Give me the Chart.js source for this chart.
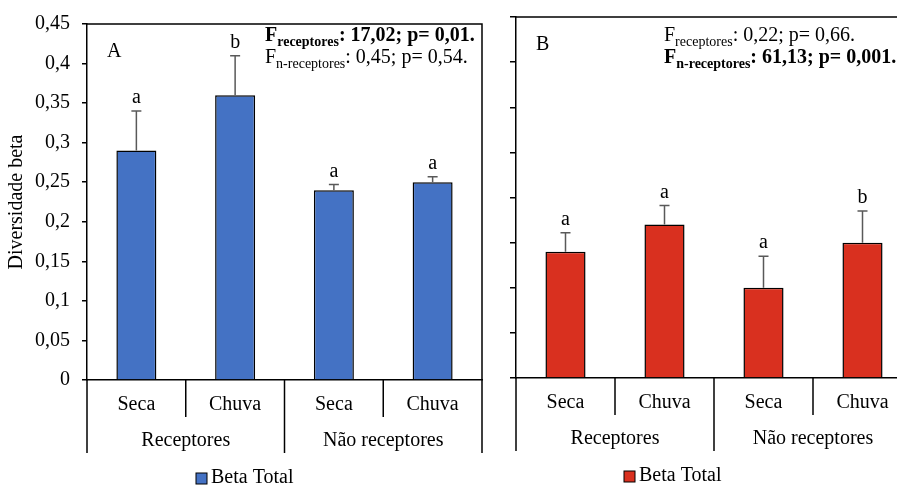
<!DOCTYPE html>
<html lang="pt">
<head>
<meta charset="UTF-8">
<title>Diversidade beta</title>
<style>
  html, body { margin: 0; padding: 0; background: #fff; overflow: hidden; width: 897px; height: 486px; }
  #chartA { position: absolute; left: 0; top: 0; }
  #chartB { position: absolute; left: 490px; top: 0; }
</style>
</head>
<body>
<canvas id="chartA" width="490" height="486"></canvas>
<canvas id="chartB" width="440" height="486"></canvas>

<script src="https://cdn.jsdelivr.net/npm/chart.js"></script>
<script>
// dados
const categorias = ['Seca', 'Chuva', 'Seca', 'Chuva'];
const grupos = ['Receptores', 'Não receptores'];
const serieNome = 'Beta Total';

const betaA = [0.29, 0.36, 0.24, 0.25];
const erroA = [0.05, 0.05, 0.007, 0.007];
const letrasA = ['a', 'b', 'a', 'a'];

const betaB = [0.14, 0.17, 0.10, 0.15];
const erroB = [0.021, 0.021, 0.035, 0.035];
const letrasB = ['a', 'a', 'a', 'b'];

const yTicksA = ['0', '0,05', '0,1', '0,15', '0,2', '0,25', '0,3', '0,35', '0,4', '0,45'];

const FONTE = '"Liberation Serif", "Times New Roman", serif';
const TAM = 20;

function richText(ctx, x, y, parts) {
  parts.forEach(p => {
    ctx.font = (p.bold ? 'bold ' : '') + p.size + 'px ' + FONTE;
    ctx.fillText(p.t, x, y + (p.dy || 0));
    x += ctx.measureText(p.t).width;
  });
}

const panelPlugin = {
  id: 'panel',
  afterDraw(chart, args, o) {
    const ctx = chart.ctx;
    const a = chart.chartArea;
    const xs = chart.scales.x, ys = chart.scales.y;
    const n = categorias.length;
    ctx.save();
    ctx.strokeStyle = '#000';
    ctx.lineWidth = 1.5;

    // moldura superior e direita
    ctx.beginPath();
    ctx.moveTo(a.left, a.top);
    ctx.lineTo(a.right, a.top);
    ctx.lineTo(a.right, a.bottom + 73);
    ctx.stroke();

    // linhas das categorias abaixo do eixo
    for (let i = 0; i < n; i++) {
      const xb = i === 0 ? a.left : (xs.getPixelForValue(i - 1) + xs.getPixelForValue(i)) / 2;
      const len = i % 2 === 0 ? 73 : 37;
      ctx.beginPath();
      ctx.moveTo(xb, a.bottom);
      ctx.lineTo(xb, a.bottom + len);
      ctx.stroke();
    }

    // barras de erro
    ctx.strokeStyle = '#595959';
    ctx.lineWidth = 1.5;
    o.valores.forEach((v, i) => {
      const x = xs.getPixelForValue(i);
      const y0 = ys.getPixelForValue(v);
      const y1 = ys.getPixelForValue(v + o.erros[i]);
      ctx.beginPath();
      ctx.moveTo(x, y0);
      ctx.lineTo(x, y1);
      ctx.moveTo(x - 5, y1);
      ctx.lineTo(x + 5, y1);
      ctx.stroke();
    });

    ctx.fillStyle = '#000';
    ctx.textAlign = 'center';
    ctx.textBaseline = 'alphabetic';
    ctx.font = TAM + 'px ' + FONTE;

    // letras de significância
    o.valores.forEach((v, i) => {
      const x = xs.getPixelForValue(i);
      const y1 = ys.getPixelForValue(v + o.erros[i]);
      ctx.fillText(o.letras[i], x, y1 - 8);
    });

    // rótulos do eixo x
    categorias.forEach((c, i) => ctx.fillText(c, xs.getPixelForValue(i), a.bottom + 30));
    grupos.forEach((g, j) => {
      const xm = (xs.getPixelForValue(2 * j) + xs.getPixelForValue(2 * j + 1)) / 2;
      ctx.fillText(g, xm, a.bottom + 66);
    });

    // letra do painel
    ctx.textAlign = 'left';
    ctx.fillText(o.letra, a.left + 20, a.top + 33);

    // estatísticas F
    o.linhasF.forEach((l, k) => {
      richText(ctx, o.fx, o.fy + k * 22, [
        { t: 'F', size: TAM, bold: l.bold },
        { t: l.sub, size: 14, bold: l.bold, dy: 5 },
        { t: l.resto, size: TAM, bold: l.bold }
      ]);
    });

    // legenda
    const ds = chart.data.datasets[0];
    ctx.fillStyle = ds.backgroundColor;
    ctx.fillRect(o.legX, o.legY - 10, 11, 11);
    ctx.strokeStyle = '#000';
    ctx.lineWidth = 1;
    ctx.strokeRect(o.legX, o.legY - 10, 11, 11);
    ctx.fillStyle = '#000';
    ctx.font = TAM + 'px ' + FONTE;
    ctx.fillText(ds.label, o.legX + 15, o.legY);
    ctx.restore();
  }
};

function makeChart(id, valores, erros, letras, cor, yOpts, extra) {
  return new Chart(document.getElementById(id), {
    type: 'bar',
    data: {
      labels: categorias,
      datasets: [{
        label: serieNome,
        data: valores,
        backgroundColor: cor,
        borderColor: '#000',
        borderWidth: 1.5,
        categoryPercentage: 1,
        barPercentage: 0.405
      }]
    },
    options: {
      responsive: false,
      devicePixelRatio: 1,
      animation: false,
      layout: { padding: extra.padding },
      plugins: {
        legend: { display: false },
        tooltip: { enabled: false },
        panel: Object.assign({ valores, erros, letras }, extra.panel)
      },
      scales: {
        x: {
          grid: { display: false },
          ticks: { display: false },
          border: { display: true, color: '#000', width: 1.5 },
          afterFit: s => { s.height = extra.xHeight; }
        },
        y: yOpts
      }
    },
    plugins: [panelPlugin]
  });
}

makeChart('chartA', betaA, erroA, letrasA, '#4472C4', {
  min: 0, max: 0.45,
  ticks: { stepSize: 0.05, padding: 12, color: '#000', font: { family: FONTE, size: TAM }, callback: (v, i) => yTicksA[i] },
  grid: { drawOnChartArea: false, drawTicks: true, tickLength: 5, color: '#000', lineWidth: 1.5 },
  border: { display: true, color: '#000', width: 1.5 },
  title: { display: true, text: 'Diversidade beta', color: '#000', font: { family: FONTE, size: TAM }, padding: { top: 5, bottom: 0 } },
  afterFit: s => { s.width = 87; }
}, {
  padding: { top: 19, right: 8, left: 0, bottom: 0 },
  xHeight: 106,
  panel: {
    letra: 'A', fx: 265, fy: 41, legX: 196, legY: 483,
    linhasF: [
      { sub: 'receptores', resto: ': 17,02; p= 0,01.', bold: true },
      { sub: 'n-receptores', resto: ': 0,45; p= 0,54.', bold: false }
    ]
  }
});

makeChart('chartB', betaB, erroB, letrasB, '#D9301F', {
  min: 0, max: 0.4,
  ticks: { stepSize: 0.05, display: false },
  grid: { drawOnChartArea: false, drawTicks: true, tickLength: 6, color: '#000', lineWidth: 1.5 },
  border: { display: true, color: '#000', width: 1.5 },
  afterFit: s => { s.width = 26; }
}, {
  padding: { top: 17, right: 18, left: 0, bottom: 0 },
  xHeight: 108,
  panel: {
    letra: 'B', fx: 174, fy: 41, legX: 134, legY: 481,
    linhasF: [
      { sub: 'receptores', resto: ': 0,22; p= 0,66.', bold: false },
      { sub: 'n-receptores', resto: ': 61,13; p= 0,001.', bold: true }
    ]
  }
});
</script>
</body>
</html>
